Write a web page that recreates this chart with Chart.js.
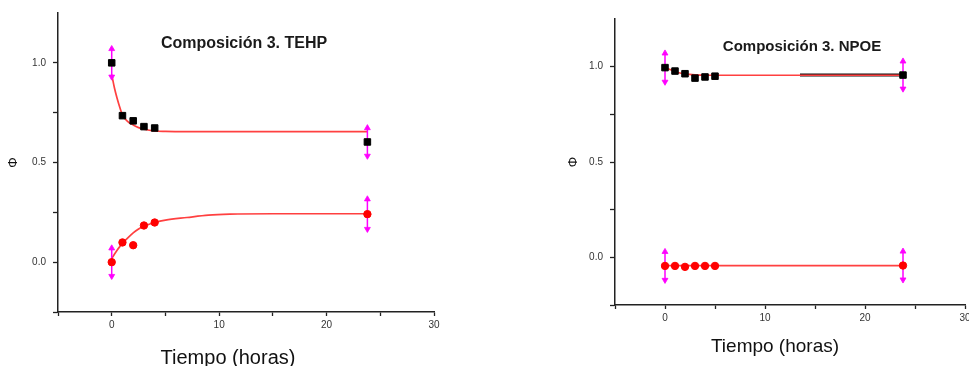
<!DOCTYPE html>
<html>
<head>
<meta charset="utf-8">
<script src="https://cdn.jsdelivr.net/npm/chart.js@4.4.0/dist/chart.umd.min.js"></script>
<style>
  html, body { margin:0; padding:0; background:#fff; width:969px; height:366px; overflow:hidden; }
  .box { position:absolute; top:0; height:366px; }
  .ttl { position:absolute; font-family:"Liberation Sans", Arial, sans-serif; font-weight:bold; color:#1a1a1a; white-space:nowrap; transform:translate(-50%,-50%); }
  .xt { position:absolute; font-family:"Liberation Sans", Arial, sans-serif; color:#111; white-space:nowrap; transform:translate(-50%,-50%); line-height:1; }
</style>
</head>
<body>
<div class="box" style="left:0;width:460px;"><canvas id="c1" width="460" height="366"></canvas></div>
<div class="box" style="left:520px;width:460px;"><canvas id="c2" width="460" height="366"></canvas></div>
<div class="ttl" style="left:244px;top:43px;font-size:16px;">Composición 3. TEHP</div>
<div class="ttl" style="left:802px;top:45px;font-size:15px;">Composición 3. NPOE</div>
<div class="xt" style="left:228px;top:357px;font-size:20px;">Tiempo (horas)</div>
<div class="xt" style="left:775px;top:345px;font-size:19px;">Tiempo (horas)</div>
<script>
// ---- data: Composición 3. TEHP ----
const hoursTEHP = [0, 1, 2, 3, 4, 23.8];
const phiTEHPsquares = [1.0, 0.735, 0.709, 0.68, 0.673, 0.603];
const phiTEHPcircles = [0.0, 0.099, 0.085, 0.184, 0.199, 0.241];
const fitHoursTEHP = [0, 0.25, 0.5, 0.75, 1, 1.5, 2, 2.5, 3, 4, 5, 7, 9, 11, 15, 23.8];
const fitTEHPsquares = [0.94, 0.875, 0.822, 0.777, 0.739, 0.705, 0.688, 0.675, 0.667, 0.658, 0.656, 0.655, 0.655, 0.655, 0.655, 0.655];
const fitTEHPcircles = [0.018, 0.04, 0.06, 0.078, 0.094, 0.122, 0.147, 0.166, 0.181, 0.199, 0.211, 0.224, 0.236, 0.241, 0.243, 0.243];
const errHoursTEHP = [0, 23.8];
const errTEHPsquares = [0.07, 0.07];
const errTEHPcircles = [0.07, 0.075];

// ---- data: Composición 3. NPOE ----
const hoursNPOE = [0, 1, 2, 3, 4, 5, 23.8];
const phiNPOEsquares = [0.995, 0.977, 0.963, 0.94, 0.946, 0.95, 0.956];
const phiNPOEcircles = [-0.045, -0.045, -0.05, -0.045, -0.045, -0.045, -0.043];
const fitHoursNPOE = [0, 0.5, 1, 1.5, 2, 3, 4, 6, 23.8];
const fitNPOEsquares = [0.995, 0.985, 0.975, 0.967, 0.962, 0.957, 0.955, 0.955, 0.955];
const fitNPOEcircles = [-0.044, -0.044, -0.044, -0.044, -0.044, -0.044, -0.044, -0.044, -0.044];
const segHoursNPOE = [13.5, 23.8];
const segNPOEsquares = [0.956, 0.956];
const errHoursNPOE = [0, 23.8];
const errNPOEsquares = [0.075, 0.072];
const errNPOEcircles = [0.074, 0.074];

// ---- tick labels ----
const xTickLabels = [0, 10, 20, 30];
const yTickLabels = [0.0, 0.5, 1.0];

const FONT = '"Liberation Sans", Arial, sans-serif';
const pts = (xs, ys) => xs.map((x, i) => ({x, y: ys[i]}));

function errorBars(xs, xsAll, ysAll, errs) {
  return xs.map((x, i) => {
    const y = ysAll[xsAll.indexOf(x)];
    return {
      data: [{x, y: y + errs[i]}, {x, y: y - errs[i]}],
      showLine: true, borderColor: '#ff00ff', borderWidth: 1.5,
      pointStyle: 'triangle', pointRadius: 3.4, pointRotation: [0, 180],
      pointBackgroundColor: '#ff00ff', pointBorderColor: '#ff00ff', pointBorderWidth: 0.8,
      order: 1
    };
  });
}

function makeChart(id, cfg) {
  const datasets = [
    {data: pts(cfg.hours, cfg.sq), pointStyle: 'rect', pointRadius: 4.6, pointBackgroundColor: '#000', pointBorderColor: '#000', pointBorderWidth: 1, showLine: false, order: 0},
    {data: pts(cfg.hours, cfg.ci), pointStyle: 'circle', pointRadius: 3.7, pointBackgroundColor: '#ff0000', pointBorderColor: '#ff0000', pointBorderWidth: 1, showLine: false, order: 0},
    ...errorBars(cfg.errHours, cfg.hours, cfg.sq, cfg.errSq),
    ...errorBars(cfg.errHours, cfg.hours, cfg.ci, cfg.errCi),
    {data: pts(cfg.fitHours, cfg.fitSq), showLine: true, borderColor: '#ff4040', borderWidth: 1.7, pointRadius: 0, cubicInterpolationMode: 'monotone', order: 2},
    {data: pts(cfg.fitHours, cfg.fitCi), showLine: true, borderColor: '#ff4040', borderWidth: 1.7, pointRadius: 0, cubicInterpolationMode: 'monotone', order: 2}
  ];
  if (cfg.segHours) {
    datasets.push({data: pts(cfg.segHours, cfg.segSq), showLine: true, borderColor: '#111', borderWidth: 3, pointRadius: 0, order: 3});
  }
  return new Chart(document.getElementById(id), {
    type: 'scatter',
    data: {datasets},
    options: {
      responsive: false, animation: false, devicePixelRatio: 1,
      layout: {padding: cfg.padding},
      plugins: {legend: {display: false}, tooltip: {enabled: false}, title: {display: false}},
      scales: {
        x: {
          type: 'linear', min: -5, max: 30,
          afterFit: s => { s.height = cfg.xHeight; },
          border: {display: true, color: '#222', width: 1.5},
          grid: {display: true, drawOnChartArea: false, drawTicks: true, tickLength: 4, tickColor: '#222', tickWidth: 1.3},
          ticks: {stepSize: 5, autoSkip: false, maxRotation: 0, padding: 3, color: '#333',
            font: {family: FONT, size: 10},
            callback: v => xTickLabels.includes(v) ? String(v) : ''},
          title: {display: false}
        },
        y: {
          type: 'linear', min: -0.25, max: 1.25,
          afterFit: s => { s.width = cfg.yWidth; },
          border: {display: true, color: '#222', width: 1.5},
          grid: {display: true, drawOnChartArea: false, drawTicks: true, tickLength: 5,
            tickColor: c => (c.tick && c.tick.value > 1.2) ? 'rgba(0,0,0,0)' : '#222', tickWidth: 1.3},
          ticks: {stepSize: 0.25, autoSkip: false, padding: 7, color: '#333',
            font: {family: FONT, size: 10},
            callback: v => yTickLabels.some(t => Math.abs(t - v) < 1e-9) ? v.toFixed(1) : ''},
          title: {display: true, text: 'Φ', color: '#111',
            font: {family: FONT, size: 13, lineHeight: 1}, padding: {top: cfg.yTitlePad, bottom: 0}}
        }
      }
    }
  });
}

makeChart('c1', {
  hours: hoursTEHP, sq: phiTEHPsquares, ci: phiTEHPcircles,
  fitHours: fitHoursTEHP, fitSq: fitTEHPsquares, fitCi: fitTEHPcircles,
  errHours: errHoursTEHP, errSq: errTEHPsquares, errCi: errTEHPcircles,
  padding: {left: 0, right: 26, top: 13, bottom: 0},
  xHeight: 54, yWidth: 58, yTitlePad: 6.5
});

makeChart('c2', {
  hours: hoursNPOE, sq: phiNPOEsquares, ci: phiNPOEcircles,
  fitHours: fitHoursNPOE, fitSq: fitNPOEsquares, fitCi: fitNPOEcircles,
  errHours: errHoursNPOE, errSq: errNPOEsquares, errCi: errNPOEcircles,
  segHours: segHoursNPOE, segSq: segNPOEsquares,
  padding: {left: 0, right: 15, top: 19, bottom: 0},
  xHeight: 61, yWidth: 95, yTitlePad: 46.5
});
</script>
</body>
</html>
